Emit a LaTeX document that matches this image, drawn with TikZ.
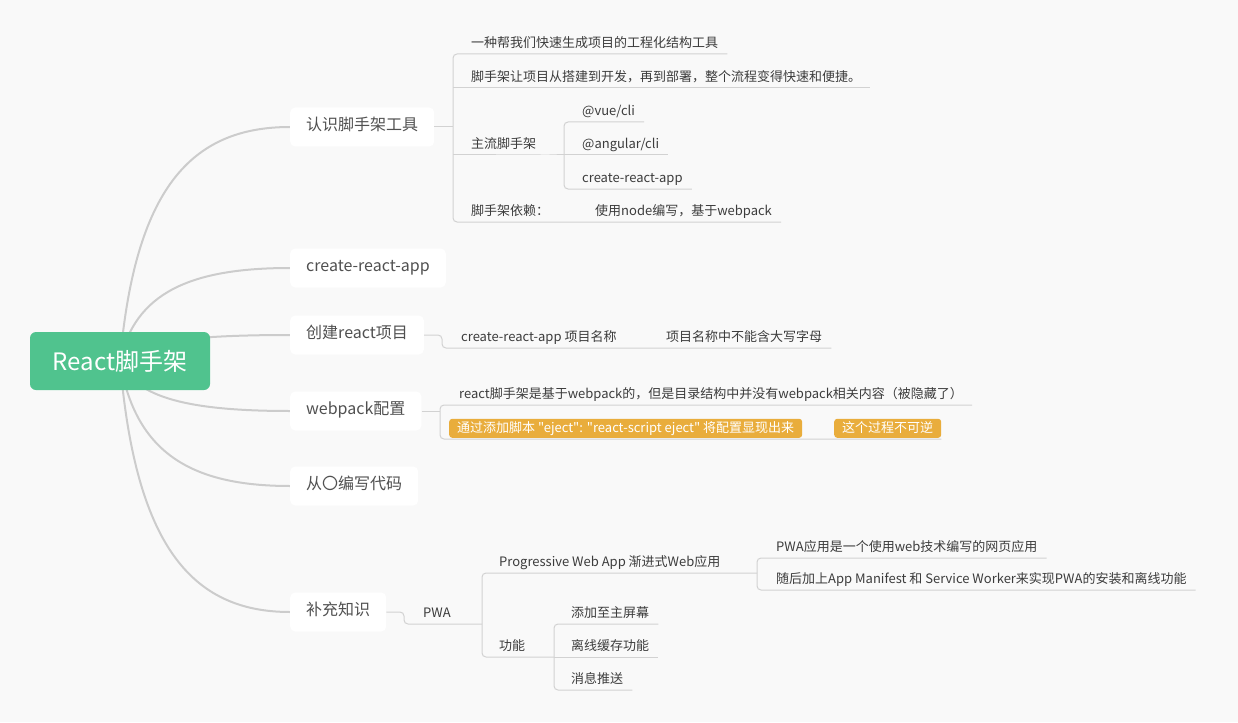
\documentclass[tikz,border=0pt]{standalone}
\usepackage{fontspec}
\setmainfont{Noto Sans CJK SC}
\newfontfamily\tagfont{Noto Sans CJK SC}
\usetikzlibrary{calc}

\definecolor{bgcol}{RGB}{249,249,249}
\definecolor{rootcol}{RGB}{80,195,142}
\definecolor{tagcol}{RGB}{233,173,60}
\definecolor{linecol}{RGB}{204,204,204}
\definecolor{twigcol}{RGB}{210,210,210}
\definecolor{topictxt}{RGB}{80,80,80}
\definecolor{leaftxt}{RGB}{60,60,60}

\pgfdeclarelayer{bg}
\pgfsetlayers{bg,main}

\begin{document}
\begin{tikzpicture}[x=1pt, y=-1pt]
    \tikzstyle{rootbox} = [fill=rootcol, text=white, rounded corners=6pt,
	minimum width=180pt, minimum height=58pt,
	font=\fontsize{24}{28}\selectfont]
    \tikzstyle{topic} = [fill=white, text=topictxt, rounded corners=5pt,
	anchor=west, inner xsep=16pt, minimum height=39pt,
	text height=.88em, text depth=.12em, font=\fontsize{16}{19}\selectfont]
    \tikzstyle{leaf} = [anchor=south west, text=leaftxt, inner xsep=9pt,
	inner ysep=5.5pt, text height=.88em, text depth=.12em,
	font=\fontsize{13}{15}\selectfont]
    \tikzstyle{tagbox} = [leaf, fill=tagcol, text=white, rounded corners=3pt,
	inner xsep=8pt, inner ysep=4.5pt, font=\tagfont\fontsize{13}{15}\selectfont]
    \tikzstyle{trunk} = [draw=linecol, line width=2pt]
    \tikzstyle{twig} = [draw=twigcol, line width=1pt, rounded corners=4pt]

	\useasboundingbox (0,0) rectangle (1238,722);

	% centre and main topics
	\node[rootbox] (root) at (120,361) {React脚手架};
	\node[topic] (b1) at (290,127) {认识脚手架工具};
	\node[topic] (b2) at (290,268) {create-react-app};
	\node[topic] (b3) at (290,335) {创建react项目};
	\node[topic] (b4) at (290,411) {webpack配置};
	\node[topic] (b5) at (290,486) {从〇编写代码};
	\node[topic] (b6) at (290,612) {补充知识};

	% 认识脚手架工具
	\coordinate (jA) at (453,127);
	\coordinate (jA3) at (564,155);
	\node[leaf] (a1) at (462,54) {一种帮我们快速生成项目的工程化结构工具};
	\node[leaf] (a2) at (462,88) {脚手架让项目从搭建到开发，再到部署，整个流程变得快速和便捷。};
	\node[leaf] (a3) at (462,155) {主流脚手架};
	\node[leaf] (a4) at (462,222) {脚手架依赖：};
	\node[leaf] (a31) at (573,122) {@vue/cli};
	\node[leaf] (a32) at (573,155) {@angular/cli};
	\node[leaf] (a33) at (573,189) {create-react-app};
	\node[leaf] (a41) at (586,222) {使用node编写，基于webpack};

	\draw[twig] (b1.east) -- (jA);
	\draw[twig] (a1.south east) -- (a1.south west -| jA) -- (a4.south west -| jA)
		-- (a4.south east) -- (a41.south west) -- (a41.south east);
	\draw[twig] (jA |- a2.south) -- (a2.south east);
	\draw[twig] (jA |- a3.south) -- (a3.south east) -- (jA3);
	\draw[twig] (a31.south east) -- (a31.south west -| jA3)
		-- (a33.south west -| jA3) -- (a33.south east);
	\draw[twig] (jA3) -- (a32.south east);

	% 创建react项目
	\coordinate (jB) at (442,335);
	\node[leaf] (d1) at (452,348) {create-react-app 项目名称};
	\node[leaf] (d2) at (657,348) {项目名称中不能含大写字母};
	\draw[twig] (b3.east) -- (jB) |- (d1.south west) -- (d1.south east)
		-- (d2.south west) -- (d2.south east);

	% webpack配置
	\coordinate (jC) at (440,411);
	\coordinate (cb) at (440,439);
	\node[leaf] (c1) at (450,405) {react脚手架是基于webpack的，但是目录结构中并没有webpack相关内容（被隐藏了）};
	\node[tagbox] (c2) at (449,438) {通过添加脚本 "eject": "react-script eject" 将配置显现出来};
	\node[tagbox] (c3) at (834,438) {这个过程不可逆};
	\draw[twig] (b4.east) -- (jC);
	\draw[twig] (c1.south east) -- (c1.south west -| jC) -- (cb) -- (c3.south east |- cb);

	% 补充知识
	\coordinate (jE0) at (404,612);
	\coordinate (jE) at (482,624);
	\coordinate (jE1) at (757,573);
	\coordinate (jE2) at (554,657);
	\node[leaf] (p1) at (414,624) {PWA};
	\node[leaf] (e1) at (490,573) {Progressive Web App 渐进式Web应用};
	\node[leaf] (e2) at (490,657) {功能};
	\node[leaf] (e11) at (767,558) {PWA应用是一个使用web技术编写的网页应用};
	\node[leaf] (e12) at (767,590) {随后加上App Manifest 和 Service Worker来实现PWA的安装和离线功能};
	\node[leaf] (e21) at (562,624) {添加至主屏幕};
	\node[leaf] (e22) at (562,657) {离线缓存功能};
	\node[leaf] (e23) at (562,690) {消息推送};

	\draw[twig] (b6.east) -- (jE0) |- (p1.south west) -- (p1.south east) -- (jE);
	\draw[twig] (jE1) -- (e1.south east) -- (e1.south west -| jE)
		-- (e2.south west -| jE) -- (e2.south east) -- (jE2);
	\draw[twig] (e11.south east) -- (e11.south west -| jE1)
		-- (e12.south west -| jE1) -- (e12.south east);
	\draw[twig] (e21.south east) -- (e21.south west -| jE2)
		-- (e23.south west -| jE2) -- (e23.south east);
	\draw[twig] (jE2) -- (e22.south east);

	\begin{pgfonlayer}{bg}
		\fill[bgcol] (0,0) rectangle (1238,722);
		\draw[trunk] (root.center) .. controls +(15,-171) and +(-100,0) .. (b1.west);
		\draw[trunk] (root.center) .. controls +(15,-68) and +(-100,0) .. (b2.west);
		\draw[trunk] (root.center) .. controls +(15,-19) and +(-100,0) .. (b3.west);
		\draw[trunk] (root.center) .. controls +(15,37) and +(-100,0) .. (b4.west);
		\draw[trunk] (root.center) .. controls +(15,91) and +(-100,0) .. (b5.west);
		\draw[trunk] (root.center) .. controls +(15,182) and +(-100,0) .. (b6.west);
	\end{pgfonlayer}
\end{tikzpicture}
\end{document}
